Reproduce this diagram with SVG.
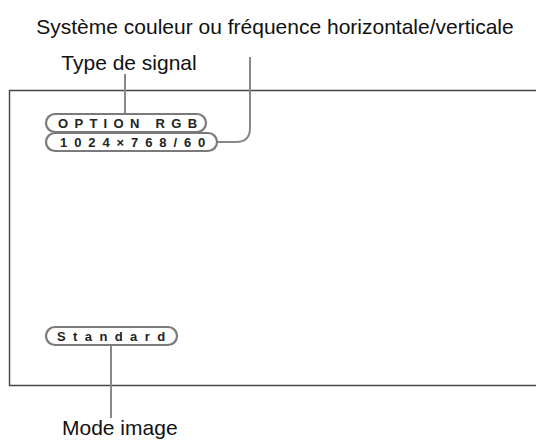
<svg xmlns="http://www.w3.org/2000/svg" width="536" height="440" viewBox="0 0 536 440">
<style>
.lbl{font-family:"Liberation Sans",Arial,sans-serif;font-size:21px;fill:#111}
.pill{fill:#fff;stroke:#7a7a7a;stroke-width:2.2}
.ptxt{font-family:"Liberation Sans",Arial,sans-serif;font-size:13px;font-weight:bold;fill:#222}
.lead{fill:none;stroke:#888;stroke-width:2}
</style>
<rect width="536" height="440" fill="#fff"/>
<g id="screen"><path d="M540 90.5 H9.5 V385.5 H540" fill="none" stroke="#444" stroke-width="1.4"/></g>
<g id="connectors">
<line class="lead" x1="125" y1="74" x2="125" y2="114"/>
<path class="lead" d="M250 57 V128 Q250 142 236 142 H217"/>
<line class="lead" x1="111" y1="345" x2="111" y2="418"/>
</g>
<g id="label-systeme"><text class="lbl" x="275" y="34" text-anchor="middle">Système couleur ou fréquence horizontale/verticale</text></g>
<g id="label-type"><text class="lbl" x="129" y="70" text-anchor="middle">Type de signal</text></g>
<g id="label-mode"><text class="lbl" x="62" y="435">Mode image</text></g>
<g id="pill-option"><rect class="pill" x="46" y="114" width="160" height="18" rx="9"/><text class="ptxt" x="58" y="127.8" letter-spacing="6.3">OPTION RGB</text></g>
<g id="pill-freq"><rect class="pill" x="46" y="133" width="171" height="18" rx="9"/><text class="ptxt" x="60" y="146.8" letter-spacing="6.9">1024×768/60</text></g>
<g id="pill-standard"><rect class="pill" x="46" y="327" width="131" height="18" rx="9"/><text class="ptxt" x="57" y="340.8" letter-spacing="7.4">Standard</text></g>
</svg>
